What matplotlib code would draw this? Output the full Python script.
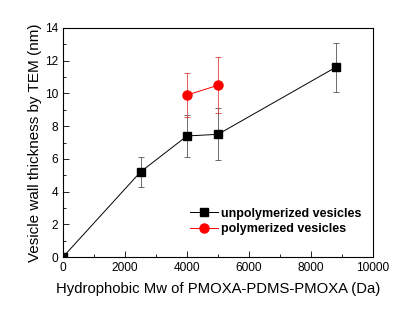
import matplotlib.pyplot as plt
from matplotlib.ticker import MultipleLocator

plt.rcParams['font.family'] = ['Liberation Sans', 'DejaVu Sans']

# unpolymerized vesicles
mw_unpoly = [0, 2500, 4000, 5000, 8800]
thick_unpoly = [0, 5.2, 7.4, 7.5, 11.6]
err_unpoly = [0, 0.9, 1.3, 1.6, 1.5]

# polymerized vesicles
mw_poly = [4000, 5000]
thick_poly = [9.9, 10.5]
err_poly = [1.35, 1.7]

fig = plt.figure(figsize=(4.12, 3.21), dpi=100)
ax = fig.add_axes([63 / 412, 1 - 257 / 321, 310 / 412, 229 / 321])

ax.errorbar(mw_unpoly, thick_unpoly, yerr=err_unpoly, color='black', lw=0.7,
            marker='s', ms=6, elinewidth=0.6, ecolor='#555555', capsize=2.5,
            capthick=0.6, label='unpolymerized vesicles')
ax.errorbar(mw_poly, thick_poly, yerr=err_poly, color='red', lw=0.7,
            marker='o', ms=6.5, elinewidth=0.6, ecolor='#e04040', capsize=2.5,
            capthick=0.6, label='polymerized vesicles')

ax.set_xlim(0, 10000)
ax.set_ylim(0, 14)
ax.xaxis.set_major_locator(MultipleLocator(2000))
ax.xaxis.set_minor_locator(MultipleLocator(1000))
ax.yaxis.set_major_locator(MultipleLocator(2))
ax.yaxis.set_minor_locator(MultipleLocator(1))
ax.tick_params(which='both', direction='in', labelsize=8.6, width=0.6)
ax.tick_params(which='major', length=4)
ax.tick_params(which='minor', length=2)
for s in ax.spines.values():
    s.set_linewidth(0.8)

ax.set_xlabel('Hydrophobic Mw of PMOXA-PDMS-PMOXA (Da)', fontsize=10.7, labelpad=6)
ax.set_ylabel('Vesicle wall thickness by TEM (nm)', fontsize=11, labelpad=2)

handles, labels = ax.get_legend_handles_labels()
handles = [h[0] for h in handles]
ax.legend(handles, labels, loc='lower right', bbox_to_anchor=(1.0, 0.045),
          frameon=False, prop={'weight': 'bold', 'size': 9},
          handlelength=2.2, handletextpad=0.3, labelspacing=0.3)

fig.savefig('out.png', dpi=100)
